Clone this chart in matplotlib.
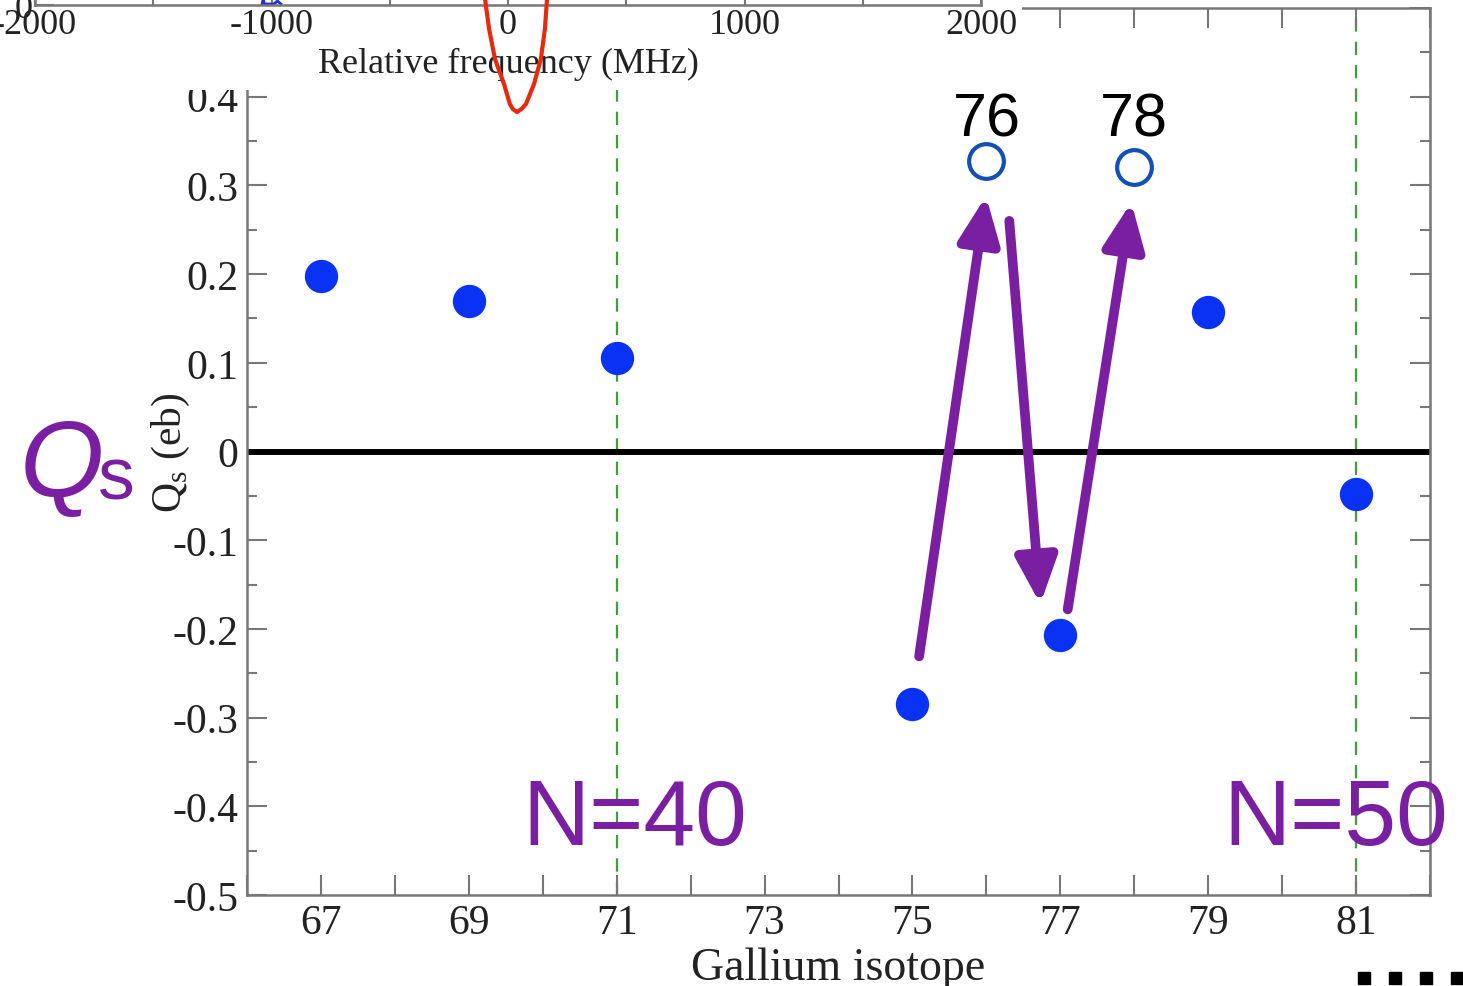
import matplotlib
matplotlib.use('Agg')
import matplotlib.pyplot as plt
from matplotlib.patches import Rectangle, FancyArrowPatch
from matplotlib.lines import Line2D
from matplotlib.ticker import MultipleLocator, FuncFormatter

plt.rcParams['font.family'] = 'Liberation Serif'
plt.rcParams['axes.unicode_minus'] = False
plt.rcParams['mathtext.fontset'] = 'custom'
plt.rcParams['mathtext.rm'] = 'Liberation Serif'

# measured quadrupole moments (filled) and the two predicted ones (open)
isotopes = [67, 69, 71, 75, 77, 79, 81]
qs_values = [0.198, 0.170, 0.105, -0.285, -0.207, 0.157, -0.048]
open_isotopes = [76, 78]
open_qs = [0.328, 0.321]
open_labels = ['76', '78']

shell_lines = [71, 81]
shell_labels = ['N=40', 'N=50']
shell_label_x = [69.73, 79.2]

# zig-zag arrows 75 -> 76 -> 77 -> 78
arrow_starts = [(75.09, -0.231), (76.31, 0.260), (77.10, -0.178)]
arrow_ends = [(75.995, 0.288), (76.73, -0.172), (77.96, 0.281)]

# spectrum inset, only its bottom edge is left in the picture
freq_ticks = [-2000, -1000, 0, 1000, 2000]
red_freq = [-115, -97, -80, -55, -17, 8, 20, 38, 57, 76, 110, 139, 156, 165, 182]
red_signal = [0.3, 0.06, -0.24, -0.54, -0.79, -0.99, -1.04, -1.07, -1.04, -0.99, -0.79, -0.54, -0.24, 0.06, 0.3]
blue_freq = [-1040, -1035, -1030, -1020, -990, -975, -960]
blue_signal = [0.01, 0.06, 0.01, 0.01, 0.01, 0.04, 0.01]

purple = '#7b1fa2'
grey = '#777777'
W, H = 1463, 987

fig = plt.figure(figsize=(14.63, 9.87), dpi=100)

# ---- main plot
ax = fig.add_axes([247 / W, 1 - 896 / H, 1183 / W, 887 / H])
ax.set_xlim(66, 82)
ax.set_ylim(-0.5, 0.5)

ax.axhline(0, color='black', lw=4.3, zorder=2)
for x in shell_lines:
    ax.axvline(x, color='#3f9f3f', lw=1.6, dashes=(6, 4.5), zorder=1)

ax.plot(isotopes, qs_values, 'o', color='#0a32f5', ms=24, mec='none', zorder=3)
ax.plot(open_isotopes, open_qs, 'o', mfc='none', mec='#1450b4', ms=25, mew=3, zorder=3)

for s, e in zip(arrow_starts, arrow_ends):
    arr = FancyArrowPatch(s, e, arrowstyle='-|>,head_length=2.8,head_width=1.25',
                          mutation_scale=10, lw=7, color=purple,
                          shrinkA=0, shrinkB=0, zorder=4)
    ax.add_patch(arr)

for x, y, lab in zip(open_isotopes, open_qs, open_labels):
    ax.text(x, 0.356, lab, ha='center', va='baseline', fontsize=44,
            family='Liberation Sans', color='black')

for x, lab in zip(shell_label_x, shell_labels):
    ax.text(x, -0.4425, lab, ha='left', va='baseline', fontsize=67,
            family='Liberation Sans', color=purple, zorder=5)

ax.xaxis.set_major_locator(MultipleLocator(1))
ax.xaxis.set_major_formatter(FuncFormatter(lambda v, p: str(int(round(v))) if int(round(v)) % 2 else ''))
ax.yaxis.set_major_locator(MultipleLocator(0.1))
ax.yaxis.set_minor_locator(MultipleLocator(0.05))
ax.yaxis.set_major_formatter(FuncFormatter(lambda v, p: '0' if abs(v) < 1e-9 else f'{v:.1f}'))

ax.tick_params(which='both', direction='in', top=True, right=True, color=grey, width=1.5,
               labelsize=30, labelcolor='#222222', pad=6)
ax.tick_params(which='major', length=14.4)
ax.tick_params(which='minor', length=7.2)
for sp in ax.spines.values():
    sp.set_color(grey)
    sp.set_linewidth(1.8)

ax.set_xlabel('Gallium isotope', fontsize=33, color='#222222')
ax.xaxis.set_label_coords(0.5, -0.0586)
ax.set_ylabel(r'Q$_\mathregular{s}$ (eb)', fontsize=30, color='#222222')
ax.yaxis.set_label_coords(-0.0465, 0.5)

# white box that the inset sits on
fig.add_artist(Rectangle((0, 1 - 91 / H), 1022 / W, 91 / H, transform=fig.transFigure,
                         facecolor='white', edgecolor='none', zorder=2))

# ---- inset (cut off at the top)
inset = fig.add_axes([35 / W, 1 - 6 / H, 946 / W, 100 / H], zorder=3)
inset.patch.set_visible(False)
inset.set_xlim(-2000, 2000)
inset.set_ylim(0, 1)
inset.set_xticks(freq_ticks, labels=[str(v) for v in freq_ticks])
inset.xaxis.set_minor_locator(MultipleLocator(500))
inset.set_yticks([0], labels=['0'])
inset.tick_params(which='both', direction='in', color=grey, width=1.5, labelsize=26,
                  labelcolor='#222222', pad=2)
inset.tick_params(which='major', length=14)
inset.tick_params(which='minor', length=7)
for sp in inset.spines.values():
    sp.set_color(grey)
    sp.set_linewidth(1.8)
inset.set_xlabel('Relative frequency (MHz)', fontsize=26, color='#222222')
inset.xaxis.set_label_coords(0.5, -0.42)

inset.plot(blue_freq, blue_signal, color='#2233cc', lw=2)
inset.plot(red_freq, red_signal, color='#e62a0d', lw=3, clip_on=False, zorder=5)

# the big Qs on the left
fig.text(20 / W, 1 - 497 / H, 'Q', fontsize=78, style='italic', family='Liberation Sans',
         color=purple, ha='left', va='baseline')
fig.text(98 / W, 1 - 500 / H, 's', fontsize=53, family='Liberation Sans',
         color=purple, ha='left', va='baseline')

# cut-off dots bottom right
fig.add_artist(Line2D([1364 / W, 1395 / W, 1426 / W, 1457 / W], [1 - 979 / H] * 4,
                      transform=fig.transFigure, marker='s', ms=8.6, ls='none',
                      color='black'))

fig.savefig('out.png', dpi=100)
